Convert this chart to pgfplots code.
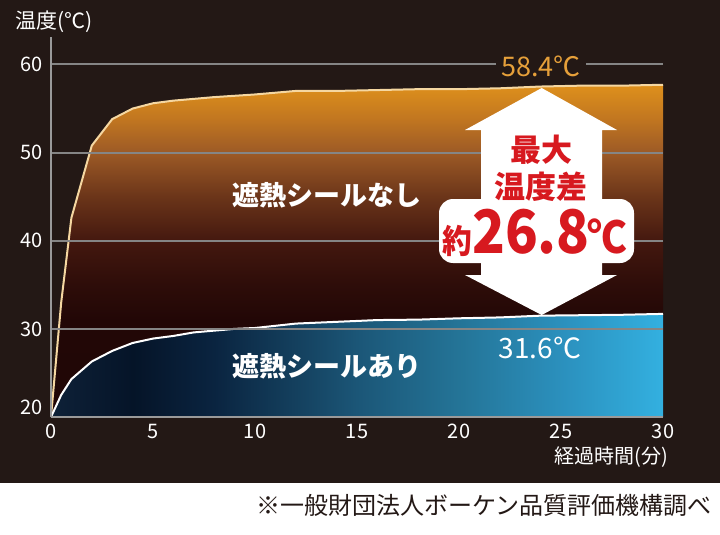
\documentclass[border=0pt]{standalone}
\usepackage{fontspec}
\usepackage{pgfplots}
\pgfplotsset{compat=1.18}
\setmainfont{Noto Sans CJK JP}
\definecolor{bg}{HTML}{231815}
\definecolor{gridgray}{HTML}{858585}
\definecolor{axisgray}{HTML}{9A9A9A}
\definecolor{upline}{HTML}{F5D7A1}
\definecolor{orangetext}{HTML}{E6A03A}
\definecolor{redtext}{HTML}{D7191F}
\definecolor{oA}{HTML}{1E0505}
\definecolor{oB}{HTML}{220706}
\definecolor{oC}{HTML}{2E0D09}
\definecolor{oD}{HTML}{44180F}
\definecolor{oE}{HTML}{6A3419}
\definecolor{oF}{HTML}{9E5B26}
\definecolor{oG}{HTML}{C27720}
\definecolor{oH}{HTML}{DE901C}
\definecolor{bA}{HTML}{0E2138}
\definecolor{bB}{HTML}{051428}
\definecolor{bC}{HTML}{0A2440}
\definecolor{bD}{HTML}{14405E}
\definecolor{bE}{HTML}{1B5677}
\definecolor{bF}{HTML}{247497}
\definecolor{bG}{HTML}{2B90BD}
\definecolor{bH}{HTML}{33B0E0}
\pgfdeclareverticalshading{orangefade}{100bp}{color(0bp)=(oA); color(39.6bp)=(oB); color(45bp)=(oC); color(51.5bp)=(oD); color(58bp)=(oE); color(65bp)=(oF); color(70bp)=(oG); color(75bp)=(oH); color(100bp)=(oH)}
\pgfdeclarehorizontalshading{bluefade}{100bp}{color(0bp)=(bA); color(25bp)=(bA); color(31.7bp)=(bB); color(38.3bp)=(bC); color(45bp)=(bD); color(50bp)=(bE); color(58.3bp)=(bF); color(66.7bp)=(bG); color(75bp)=(bH); color(100bp)=(bH)}
\newcommand{\bigtxt}{\bfseries{\fontsize{33}{33}\selectfont 約}{\fontsize{60}{60}\selectfont 26.8}\kern-2pt{\fontsize{44}{44}\selectfont ℃}}
\begin{document}
\begin{tikzpicture}
\fill[bg] (0pt,0pt) rectangle (720pt,-483pt);
\fill[white] (0pt,-483pt) rectangle (720pt,-535pt);
\begin{axis}[
  at={(51pt,-417pt)}, anchor=south west,
  scale only axis, width=612pt, height=380pt,
  xmin=0, xmax=30, ymin=20, ymax=63.12,
  axis x line*=bottom, axis y line*=left,
  axis line style={draw=axisgray, line width=2pt},
  xtick={0,5,...,30}, ytick={30,40,50,60},
  extra y ticks={20},
  extra y tick style={grid=none, yticklabel style={yshift=10pt}},
  major tick length=0pt,
  ymajorgrids, grid style={draw=gridgray, line width=2pt},
  axis on top,
  tick label style={font=\fontsize{20}{20}\selectfont, text=white, inner sep=0pt},
  /pgf/number format/assume math mode=true,
  xticklabel style={yshift=-7pt},
  yticklabel style={xshift=-8pt},
]
\addplot[draw=none, shade, shading=orangefade] table {
0 20
0.5 33
1 42.6
2 50.8
3 53.8
4 55.0
5 55.6
6 55.9
7 56.1
8 56.3
10 56.6
12 57.0
14 57.0
16 57.1
18 57.2
20 57.2
22 57.3
24 57.5
26 57.6
28 57.6
30 57.7
30 20
};
\addplot[draw=none, shade, shading=bluefade] table {
0 20
0.5 22.5
1 24.3
2 26.3
3 27.5
4 28.4
5 28.9
6 29.2
7 29.6
8 29.8
9 30.0
10 30.1
11 30.35
12 30.6
13 30.7
14 30.8
15 30.9
16 31.0
18 31.05
20 31.2
22 31.3
24 31.5
26 31.55
28 31.6
30 31.7
30 20
};
\addplot[draw=upline, line width=2pt] table {
0 20
0.5 33
1 42.6
2 50.8
3 53.8
4 55.0
5 55.6
6 55.9
7 56.1
8 56.3
10 56.6
12 57.0
14 57.0
16 57.1
18 57.2
20 57.2
22 57.3
24 57.5
26 57.6
28 57.6
30 57.7
};
\addplot[draw=white, line width=2pt] table {
0 20
0.5 22.5
1 24.3
2 26.3
3 27.5
4 28.4
5 28.9
6 29.2
7 29.6
8 29.8
9 30.0
10 30.1
11 30.35
12 30.6
13 30.7
14 30.8
15 30.9
16 31.0
18 31.05
20 31.2
22 31.3
24 31.5
26 31.55
28 31.6
30 31.7
};
\end{axis}
% labels
\node[text=white] at (54pt,-22pt) {\fontsize{21}{21}\selectfont 温度(℃)};
\node[text=white, anchor=east, inner sep=0pt] at (668pt,-457pt) {\fontsize{20}{20}\selectfont 経過時間(分)};
\node[text=bg, anchor=east, inner sep=0pt] at (712pt,-505pt) {\fontsize{24}{24}\selectfont ※一般財団法人ボーケン品質評価機構調べ};
\node[text=white] at (327pt,-195pt) {\bfseries\fontsize{27}{27}\selectfont 遮熱シールなし};
\node[text=white] at (327pt,-366pt) {\bfseries\fontsize{27}{27}\selectfont 遮熱シールあり};
\node[text=white] at (540pt,-348pt) {\fontsize{28}{28}\selectfont 31.6℃};
\node[fill=bg, inner xsep=5pt, inner ysep=2pt, text=orangetext] at (541pt,-66pt) {\fontsize{27}{27}\selectfont 58.4℃};
% arrow
\fill[white] (541.7pt,-88pt) -- (617pt,-130pt) -- (602pt,-130pt) -- (602pt,-275pt) -- (617pt,-275pt) -- (541.7pt,-315pt) -- (465pt,-275pt) -- (481pt,-275pt) -- (481pt,-130pt) -- (465pt,-130pt) -- cycle;
\fill[white, rounded corners=14pt] (439pt,-199pt) rectangle (634pt,-263pt);
\node[text=redtext] at (541pt,-150pt) {\bfseries\fontsize{31}{31}\selectfont 最大};
\node[text=redtext] at (541pt,-187pt) {\bfseries\fontsize{31}{31}\selectfont 温度差};
\node[anchor=base, text=redtext, inner sep=0pt, xscale=0.9] at (535pt,-253pt) {\bigtxt};
\pgfresetboundingbox
\path[use as bounding box] (0pt,0pt) rectangle (720pt,-535pt);
\end{tikzpicture}
\end{document}
